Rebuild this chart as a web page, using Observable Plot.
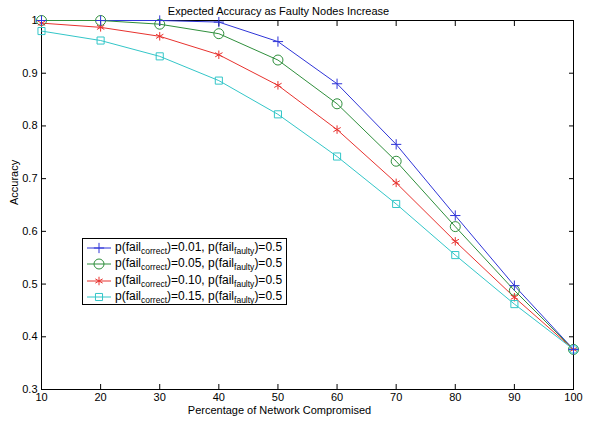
<!DOCTYPE html>
<html><head><meta charset="utf-8">
<script src="https://cdn.jsdelivr.net/npm/d3@7"></script>
<script src="https://cdn.jsdelivr.net/npm/@observablehq/plot@0.6"></script>
<style>
body{margin:0;background:#fff;font-family:"Liberation Sans",Arial,sans-serif;}
#wrap{position:relative;width:589px;height:422px;}
#wrap svg.plot{position:absolute;left:0;top:0;}
#legend{position:absolute;left:82px;top:238px;width:203px;height:65px;border:1px solid #000;background:#fff;font-size:12px;color:#000;}
#legend .row{position:absolute;left:0;height:16px;width:203px;}
#legend .row svg{position:absolute;left:4px;top:0;}
#legend .row span{position:absolute;left:32px;top:0px;white-space:nowrap;}
#legend sub{font-size:8.5px;vertical-align:-3px;}
</style></head>
<body><div id="wrap"></div>
<script>
const xs = [10,20,30,40,50,60,70,80,90,100];
const seriesNames = ["0.01","0.05","0.10","0.15"];
const s001 = [1.000,1.000,1.000,0.997,0.960,0.880,0.765,0.630,0.497,0.376];
const s005 = [1.000,1.000,0.993,0.975,0.925,0.842,0.733,0.609,0.488,0.376];
const s010 = [0.995,0.987,0.970,0.935,0.877,0.793,0.692,0.581,0.475,0.376];
const s015 = [0.980,0.962,0.932,0.886,0.822,0.742,0.652,0.555,0.462,0.376];
const colors = ["#2f35d8","#2f8f3c","#e8322e","#33c6c8"];
const symbols = ["plus","circle","asterisk","square"];
const symbolR = [3.4,5,4,4];
const xTicks = [10,20,30,40,50,60,70,80,90,100];
const yTicks = [0.3,0.4,0.5,0.6,0.7,0.8,0.9,1];
const title = "Expected Accuracy as Faulty Nodes Increase";
const xLabel = "Percentage of Network Compromised";
const yLabel = "Accuracy";

const allSeries = [s001,s005,s010,s015];
const data = [];
allSeries.forEach((vals,i)=>vals.forEach((v,j)=>data.push({x:xs[j],y:v,s:seriesNames[i],r:symbolR[i]})));

const fmt = d3.format("~g");
const plot = Plot.plot({
  width:589, height:422,
  marginLeft:41, marginRight:16, marginTop:20, marginBottom:33,
  style:{fontFamily:"Liberation Sans, Arial, sans-serif", fontSize:"11px", background:"#fff"},
  x:{domain:[10,100]},
  y:{domain:[0.3,1]},
  r:{type:"identity"},
  color:{domain:seriesNames, range:colors},
  symbol:{domain:seriesNames, range:symbols},
  marks:[
    Plot.frame({stroke:"#000", strokeWidth:1}),
    Plot.axisX({ticks:xTicks, tickSize:-5, tickPadding:9, tickFormat:fmt, label:null, fontSize:11}),
    Plot.axisX({anchor:"top", ticks:xTicks, tickSize:-5, tickFormat:()=>"", label:null}),
    Plot.axisY({ticks:yTicks, tickSize:-5, tickPadding:9, tickFormat:fmt, label:null, fontSize:11}),
    Plot.axisY({anchor:"right", ticks:yTicks, tickSize:-5, tickFormat:()=>"", label:null}),
    Plot.line(data,{x:"x",y:"y",z:"s",stroke:"s",strokeWidth:1}),
    Plot.dot(data,{x:"x",y:"y",stroke:"s",symbol:"s",r:"r",fill:"none",strokeWidth:1}),
    Plot.text([title],{frameAnchor:"top",dx:-29,dy:-13,text:d=>d,fontSize:11,fill:"#000"}),
    Plot.text([xLabel],{frameAnchor:"bottom",dx:-28,dy:24,text:d=>d,fontSize:11,fill:"#000"}),
    Plot.text([yLabel],{frameAnchor:"left",dx:-27,rotate:-90,text:d=>d,fontSize:11,fill:"#000"})
  ]
});
plot.classList.add("plot");
document.getElementById("wrap").appendChild(plot);

const leg = document.createElement("div");
leg.id="legend";
const symMap = {plus:d3.symbolPlus,circle:d3.symbolCircle,asterisk:d3.symbolAsterisk,square:d3.symbolSquare};
seriesNames.forEach((n,i)=>{
  const row=document.createElement("div");
  row.className="row"; row.style.top=(1+i*16.3)+"px";
  const sym = d3.symbol(symMap[symbols[i]], Math.PI*symbolR[i]*symbolR[i])();
  row.innerHTML=`<svg width="24" height="16"><line x1="0" x2="24" y1="8" y2="8" stroke="${colors[i]}" stroke-width="1"/><path transform="translate(12,8)" d="${sym}" fill="none" stroke="${colors[i]}"/></svg><span>p(fail<sub>correct</sub>)=${n}, p(fail<sub>faulty</sub>)=0.5</span>`;
  leg.appendChild(row);
});
document.getElementById("wrap").appendChild(leg);
</script></body></html>
